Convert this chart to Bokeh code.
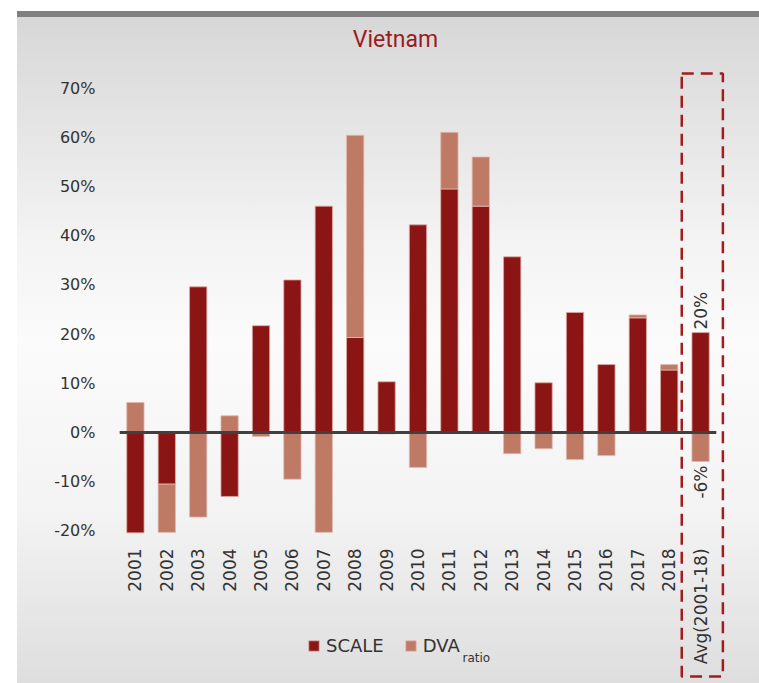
import math
from bokeh.plotting import figure
from bokeh.models import (ColumnDataSource, Range1d, FixedTicker,
                          NumeralTickFormatter, BoxAnnotation, Legend,
                          LegendItem, Label)
from bokeh.core.properties import value
from bokeh.embed import file_html
from bokeh.resources import INLINE

# ---- data (percent) ----
categories = ["2001", "2002", "2003", "2004", "2005", "2006", "2007", "2008",
              "2009", "2010", "2011", "2012", "2013", "2014", "2015", "2016",
              "2017", "2018", "Avg(2001-18)"]
scale = [-20.4, -10.5, 29.6, -13.0, 21.7, 31.0, 46.0, 19.3, 10.3, 42.2,
         49.5, 46.0, 35.7, 10.1, 24.4, 13.8, 23.3, 12.7, 20.3]
dva_ratio = [6.1, -9.8, -17.2, 3.4, -0.8, -9.5, -20.3, 41.1, -0.3, -7.1,
             11.5, 10.0, -4.3, -3.3, -5.5, -4.7, 0.6, 1.1, -5.9]
y_ticks = [-0.2, -0.1, 0.0, 0.1, 0.2, 0.3, 0.4, 0.5, 0.6, 0.7]

SCALE_COLOR = "#8b1515"
DVA_COLOR = "#bf7a66"
TEXT_COLOR = "#333333"
FONT = "DejaVu Sans"

n = len(categories)
idx = list(range(n))
s = [v / 100 for v in scale]
d = [v / 100 for v in dva_ratio]
dva_bottom = [si if si * di > 0 else 0.0 for si, di in zip(s, d)]
dva_top = [b + di for b, di in zip(dva_bottom, d)]

src = ColumnDataSource(dict(x=idx, cat=categories, scale=s, zero=[0.0] * n,
                            dva_bottom=dva_bottom, dva_top=dva_top))

pad = 0.825
p = figure(x_range=Range1d(-pad, n - 1 + pad), y_range=Range1d(-0.5102, 0.878),
           width=759, height=683, output_backend="svg", toolbar_location=None,
           min_border_left=109, min_border_right=33, min_border_top=0,
           min_border_bottom=0, border_fill_color=None,
           background_fill_color=None, outline_line_color=None)
p.styles = {
    "background": "linear-gradient(to right, #ffffff 0px, #ffffff 17px, rgba(255,255,255,0) 17px), "
                  "linear-gradient(to bottom, #ffffff 0px, #ffffff 11px, #7f7f7f 11px, #7f7f7f 17px, "
                  "#d7d7d7 17px, #f3f3f3 35%, #fbfbfb 50%, #f3f3f3 75%, #dedede 100%)",
}

p.xgrid.visible = False
p.ygrid.visible = False

r1 = p.vbar(x="x", top="scale", bottom="zero", width=0.55, source=src,
            fill_color=SCALE_COLOR, line_color="#d9aaa2", line_width=0.8)
r2 = p.vbar(x="x", top="dva_top", bottom="dva_bottom", width=0.55, source=src,
            fill_color=DVA_COLOR, line_color="#e0b9ae", line_width=0.8)

# zero line spanning the categories
p.segment(x0=[-0.5], x1=[n - 0.5], y0=[0], y1=[0], line_color="#404040",
          line_width=3)

# axes
p.yaxis.ticker = FixedTicker(ticks=y_ticks)
p.yaxis.formatter = NumeralTickFormatter(format="0%")
p.yaxis.axis_line_color = None
p.yaxis.major_tick_line_color = None
p.yaxis.minor_tick_line_color = None
p.yaxis.major_tick_out = 0
p.yaxis.major_tick_in = 0
p.yaxis.major_label_standoff = 14
p.yaxis.major_label_text_font = FONT
p.yaxis.major_label_text_font_size = "16px"
p.yaxis.major_label_text_color = TEXT_COLOR

p.xaxis.ticker = FixedTicker(ticks=idx)
p.xaxis.major_label_overrides = {i: c for i, c in zip(idx, categories)}
p.xaxis.fixed_location = -0.2195
p.xaxis.axis_line_color = None
p.xaxis.major_tick_line_color = None
p.xaxis.minor_tick_line_color = None
p.xaxis.major_tick_out = 0
p.xaxis.major_tick_in = 0
p.xaxis.major_label_orientation = math.pi / 2
p.xaxis.major_label_standoff = 8
p.xaxis.major_label_text_font = FONT
p.xaxis.major_label_text_font_size = "17px"
p.xaxis.major_label_text_color = TEXT_COLOR

# average value labels
avg_src = ColumnDataSource(dict(x=[idx[-1]], y=[s[-1]],
                                t=[f"{round(scale[-1])}%"]))
avg_src2 = ColumnDataSource(dict(x=[idx[-1]], y=[dva_top[-1]],
                                 t=[f"{round(dva_ratio[-1])}%"]))
p.text(x="x", y="y", text="t", source=avg_src, angle=math.pi / 2,
       text_align="left", text_baseline="middle", y_offset=-3,
       text_font=value(FONT), text_font_size="17px", text_color=TEXT_COLOR)
p.text(x="x", y="y", text="t", source=avg_src2, angle=math.pi / 2,
       text_align="right", text_baseline="middle", y_offset=4,
       text_font=value(FONT), text_font_size="17px", text_color=TEXT_COLOR)

# dashed box around the average column
p.add_layout(BoxAnnotation(left=idx[-1] - 0.6, right=idx[-1] + 0.71,
                           top=0.7297, bottom=-0.496,
                           fill_color=None, fill_alpha=0, line_color="#a31c1c",
                           line_alpha=1.0, line_width=2.5, line_dash="12 7"))

# title
p.add_layout(Label(x=286, y=644, x_units="screen", y_units="screen",
                   text="Vietnam", text_align="center", text_baseline="middle",
                   text_font="Roboto", text_font_size="23px",
                   text_color="#9b1b1f"))

# legend
legend = Legend(items=[LegendItem(label="SCALE", renderers=[r1]),
                       LegendItem(label="DVA", renderers=[r2])],
                orientation="horizontal", location=(198, 27), padding=0,
                margin=0, spacing=20, glyph_width=13, glyph_height=13,
                label_height=20, label_standoff=6, label_text_font=FONT,
                label_text_font_size="18px", label_text_color=TEXT_COLOR,
                border_line_color=None, background_fill_alpha=0)
p.add_layout(legend)
p.add_layout(Label(x=353, y=26, x_units="screen", y_units="screen",
                   text="ratio", text_align="left", text_baseline="alphabetic",
                   text_font=FONT, text_font_size="12px",
                   text_color=TEXT_COLOR))

open("out.html", "w").write(file_html(p, INLINE))
